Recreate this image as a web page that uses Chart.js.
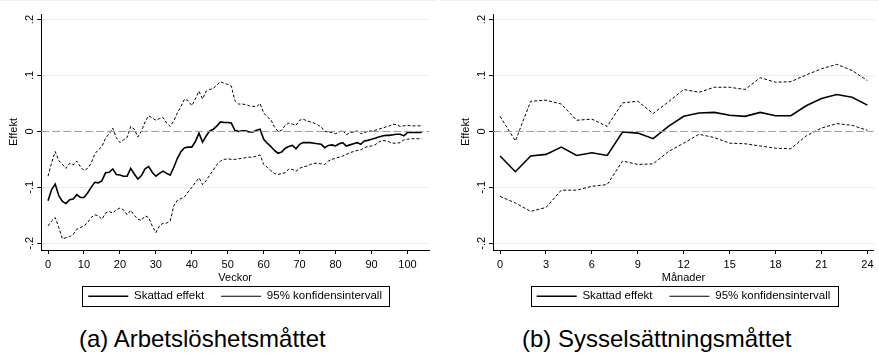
<!DOCTYPE html>
<html>
<head>
<meta charset="utf-8">
<script src="https://cdn.jsdelivr.net/npm/chart.js@4.4.1/dist/chart.umd.min.js"></script>
<style>
  html, body { margin: 0; padding: 0; background: #fff; }
  body { width: 879px; height: 355px; position: relative; overflow: hidden; font-family: 'Liberation Sans', Arial, sans-serif; }
  .panel { position: absolute; top: 0; height: 320px; border-top: 1px solid #eef2f3; }
  #left { left: 0; width: 437px; }
  #right { left: 440px; width: 439px; }
  canvas { position: absolute; top: -1px; left: 0; }
  .caption { position: absolute; top: 327px; font-size: 24px; line-height: 24px; color: #000; white-space: nowrap; }
</style>
</head>
<body>
<div class="panel" id="left"><canvas id="c1" width="440" height="320"></canvas></div>
<div class="panel" id="right"><canvas id="c2" width="439" height="320"></canvas></div>
<div class="caption" style="left:79px">(a) Arbetslöshetsmåttet</div>
<div class="caption" style="left:522px">(b) Sysselsättningsmåttet</div>
<script>
// Veckor 0-104, panel (a)
const weeks = Array.from({ length: 105 }, (_, i) => i);
const weekEst = [
  -0.124, -0.104, -0.094, -0.115, -0.125, -0.129, -0.122, -0.121, -0.113, -0.118,
  -0.118, -0.110, -0.100, -0.091, -0.092, -0.088, -0.074, -0.073, -0.067, -0.077,
  -0.078, -0.080, -0.080, -0.066, -0.076, -0.085, -0.079, -0.067, -0.063, -0.073,
  -0.080, -0.075, -0.071, -0.075, -0.078, -0.064, -0.048, -0.036, -0.029, -0.028,
  -0.028, -0.018, -0.003, -0.019, -0.008, 0.001, 0.004, 0.010, 0.017, 0.016,
  0.016, 0.015, 0.002, 0.000, 0.001, 0.001, -0.001, -0.001, 0.002, 0.004,
  -0.014, -0.021, -0.027, -0.034, -0.039, -0.037, -0.030, -0.027, -0.025, -0.031,
  -0.023, -0.020, -0.020, -0.020, -0.021, -0.022, -0.023, -0.029, -0.025, -0.024,
  -0.026, -0.022, -0.020, -0.026, -0.024, -0.022, -0.020, -0.023, -0.017, -0.016,
  -0.014, -0.012, -0.010, -0.008, -0.007, -0.007, -0.006, -0.005, -0.005, -0.008,
  -0.002, -0.002, -0.002, -0.002, -0.002
];
const weekUpper = [
  -0.080, -0.056, -0.036, -0.052, -0.059, -0.066, -0.057, -0.060, -0.053, -0.063,
  -0.070, -0.066, -0.057, -0.040, -0.033, -0.027, -0.012, -0.004, 0.006, -0.011,
  -0.020, -0.015, -0.011, 0.009, 0.004, -0.010, 0.001, 0.017, 0.028, 0.024,
  0.020, 0.023, 0.025, 0.015, 0.009, 0.019, 0.033, 0.045, 0.058, 0.055,
  0.046, 0.058, 0.072, 0.058, 0.072, 0.075, 0.077, 0.083, 0.089, 0.086,
  0.084, 0.081, 0.055, 0.049, 0.049, 0.048, 0.046, 0.045, 0.044, 0.050,
  0.033, 0.026, 0.021, 0.008, 0.000, 0.002, 0.011, 0.015, 0.013, 0.011,
  0.020, 0.022, 0.019, 0.017, 0.015, 0.012, 0.008, 0.000, -0.001, -0.002,
  -0.004, -0.001, 0.002, -0.006, -0.002, -0.001, 0.001, -0.004, -0.002, 0.000,
  0.001, 0.002, 0.004, 0.006, 0.008, 0.010, 0.013, 0.012, 0.009, 0.010,
  0.011, 0.010, 0.010, 0.010, 0.010
];
const weekLower = [
  -0.169, -0.160, -0.154, -0.172, -0.192, -0.190, -0.188, -0.184, -0.175, -0.172,
  -0.169, -0.163, -0.154, -0.149, -0.151, -0.157, -0.146, -0.143, -0.146, -0.140,
  -0.137, -0.140, -0.149, -0.141, -0.150, -0.157, -0.159, -0.151, -0.154, -0.169,
  -0.181, -0.169, -0.164, -0.164, -0.160, -0.133, -0.123, -0.120, -0.117, -0.108,
  -0.100, -0.091, -0.083, -0.095, -0.088, -0.078, -0.069, -0.059, -0.053, -0.050,
  -0.049, -0.050, -0.050, -0.049, -0.048, -0.047, -0.046, -0.046, -0.044, -0.042,
  -0.059, -0.064, -0.070, -0.075, -0.077, -0.075, -0.074, -0.067, -0.068, -0.071,
  -0.066, -0.063, -0.062, -0.059, -0.057, -0.057, -0.058, -0.059, -0.053, -0.050,
  -0.048, -0.046, -0.044, -0.041, -0.038, -0.036, -0.034, -0.033, -0.029, -0.027,
  -0.026, -0.024, -0.019, -0.016, -0.017, -0.019, -0.021, -0.021, -0.020, -0.015,
  -0.014, -0.013, -0.013, -0.013, -0.013
];
const weekTicks = [0, 10, 20, 30, 40, 50, 60, 70, 80, 90, 100];

// Månader 0-24, panel (b)
const months = Array.from({ length: 25 }, (_, i) => i);
const monthEst = [
  -0.044, -0.072, -0.044, -0.041, -0.028, -0.043, -0.038, -0.043, -0.001, -0.003,
  -0.013, 0.009, 0.027, 0.033, 0.034, 0.029, 0.027, 0.034, 0.028, 0.028,
  0.046, 0.059, 0.066, 0.061, 0.047
];
const monthUpper = [
  0.027, -0.017, 0.054, 0.056, 0.049, 0.020, 0.022, 0.009, 0.051, 0.054,
  0.032, 0.053, 0.075, 0.070, 0.079, 0.079, 0.075, 0.096, 0.088, 0.089,
  0.101, 0.112, 0.120, 0.109, 0.091
];
const monthLower = [
  -0.116, -0.128, -0.143, -0.136, -0.105, -0.105, -0.098, -0.095, -0.053, -0.059,
  -0.058, -0.036, -0.021, -0.005, -0.011, -0.021, -0.022, -0.026, -0.030, -0.031,
  -0.008, 0.006, 0.014, 0.011, 0.002
];
const monthTicks = [0, 3, 6, 9, 12, 15, 18, 21, 24];

const yTicks = [-0.2, -0.1, 0, 0.1, 0.2];

Chart.defaults.font.family = "'Liberation Sans', Arial, sans-serif";
Chart.defaults.font.size = 11;
Chart.defaults.color = '#000';

const fmtY = v => (v === 0 ? '0' : String(Math.round(v * 10) / 10).replace('0.', '.'));
const xy = (xs, ys) => xs.map((x, i) => ({ x: x, y: ys[i] }));

// ram runt legenden, som i Stata
const legendFrame = {
  id: 'legendFrame',
  afterDraw(chart) {
    const boxes = chart.legend.legendHitBoxes;
    if (!boxes || !boxes.length) return;
    const left = Math.min(...boxes.map(b => b.left)) - 6;
    const right = Math.max(...boxes.map(b => b.left + b.width)) + 7;
    const mid = boxes[0].top + boxes[0].height / 2;
    const ctx = chart.ctx;
    ctx.save();
    ctx.strokeStyle = '#000';
    ctx.lineWidth = 1;
    ctx.strokeRect(Math.round(left) + 0.5, Math.round(mid - 10) + 0.5, Math.round(right - left), 20);
    ctx.restore();
  }
};

function buildChart(canvasId, o) {
  const series = [
    { label: 'noll', data: [{ x: o.xMin, y: 0 }, { x: o.xMax, y: 0 }], borderColor: '#9c9c9c', borderWidth: 1, borderDash: [8, 3] },
    { label: 'Skattad effekt', data: xy(o.x, o.est), borderColor: '#000', borderWidth: 1.6 },
    { label: '95% konfidensintervall', data: xy(o.x, o.upper), borderColor: '#000', borderWidth: 1, borderDash: [3, 2] },
    { label: 'nedre', data: xy(o.x, o.lower), borderColor: '#000', borderWidth: 1, borderDash: [3, 2] }
  ];

  return new Chart(document.getElementById(canvasId), {
    type: 'line',
    data: {
      datasets: series.map(s => Object.assign({ pointRadius: 0, fill: false, tension: 0, backgroundColor: s.borderColor }, s))
    },
    options: {
      responsive: false,
      animation: false,
      layout: { padding: { left: o.padLeft, right: o.padRight, top: 14, bottom: 8 } },
      plugins: {
        tooltip: { enabled: false },
        legend: {
          position: 'bottom',
          fullSize: false,
          labels: {
            usePointStyle: true,
            pointStyle: 'line',
            pointStyleWidth: 40,
            boxHeight: 11.5,
            padding: 17,
            color: '#000',
            font: { size: 11.5 },
            filter: item => item.datasetIndex === 1 || item.datasetIndex === 2
          }
        }
      },
      scales: {
        x: {
          type: 'linear',
          min: o.xMin,
          max: o.xMax,
          afterBuildTicks: s => { s.ticks = o.ticks.map(v => ({ value: v })); },
          grid: { drawOnChartArea: false, drawTicks: true, tickLength: 4, tickColor: '#000' },
          border: { color: '#000', width: 1 },
          ticks: { padding: 5.5, maxRotation: 0, font: { size: 11, lineHeight: 1 }, callback: v => String(v) },
          title: { display: true, text: o.xTitle, font: { size: 11, lineHeight: 1 }, padding: { top: -4, bottom: -9.5 } }
        },
        y: {
          min: -0.212,
          max: 0.21,
          afterBuildTicks: s => { s.ticks = yTicks.map(v => ({ value: v })); },
          grid: {
            color: c => (c.tick && c.tick.value === 0 ? 'rgba(0,0,0,0)' : '#e4edef'),
            tickLength: 4,
            tickColor: '#000'
          },
          border: { color: '#000', width: 1 },
          ticks: { minRotation: 90, maxRotation: 90, crossAlign: 'center', padding: 1, font: { size: 11, lineHeight: 1 }, callback: fmtY },
          title: { display: true, text: 'Effekt', font: { size: 11 }, padding: { top: 4, bottom: 4 } }
        }
      }
    },
    plugins: [legendFrame]
  });
}

buildChart('c1', {
  x: weeks, est: weekEst, upper: weekUpper, lower: weekLower,
  ticks: weekTicks, xMin: -1.9, xMax: 106, xTitle: 'Veckor', padLeft: 3, padRight: 11
});
buildChart('c2', {
  x: months, est: monthEst, upper: monthUpper, lower: monthLower,
  ticks: monthTicks, xMin: -0.45, xMax: 24.42, xTitle: 'Månader', padLeft: 15, padRight: 0
});
</script>
</body>
</html>
